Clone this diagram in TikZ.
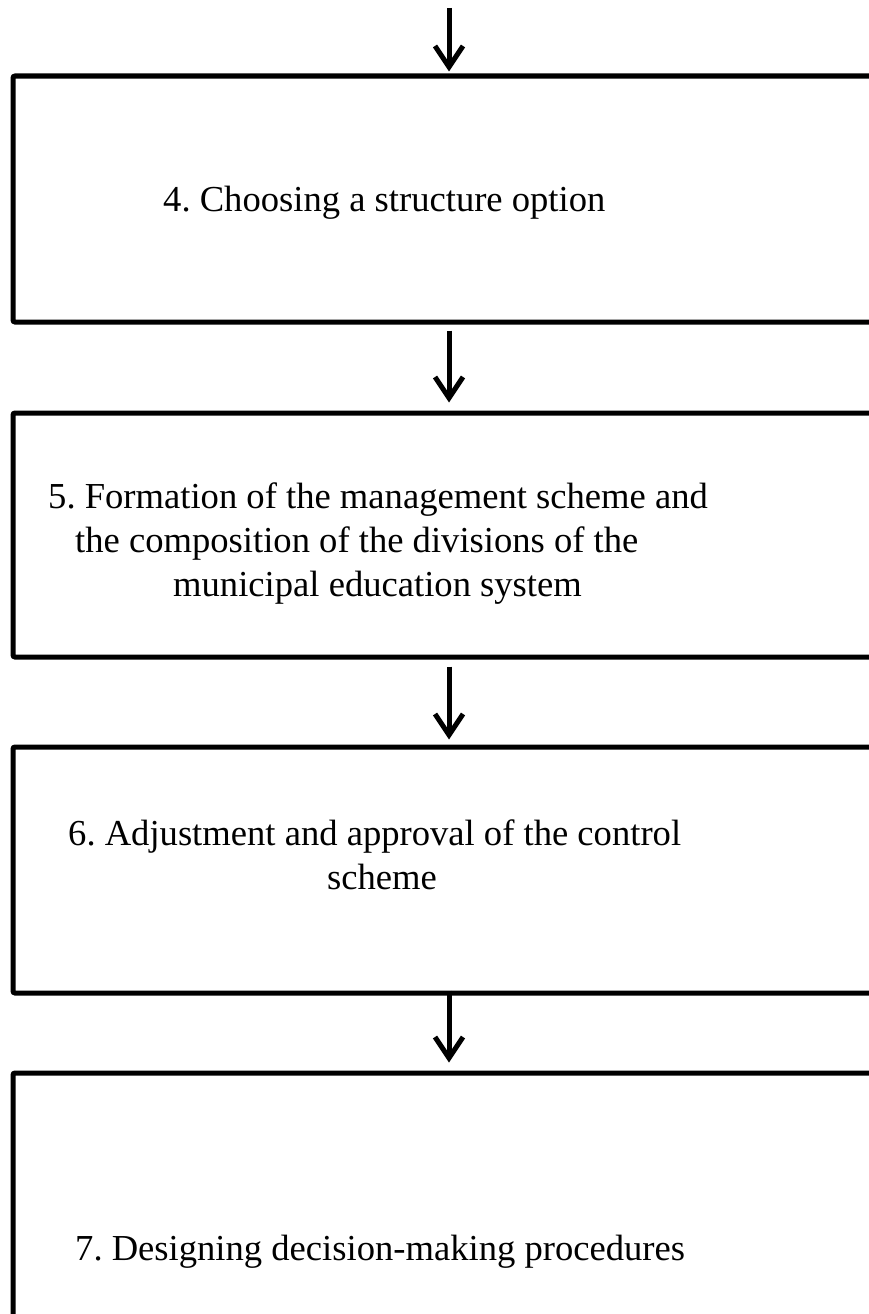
\documentclass[tikz,border=0pt]{standalone}
\usepackage{fontspec}
\setmainfont{Liberation Serif}
\usetikzlibrary{arrows.meta}
\frenchspacing
\begin{document}
\begin{tikzpicture}[x=1pt,y=-1pt,
  stepbox/.style={draw=black,line width=5pt,rounded corners=2pt,rectangle,inner sep=0pt,minimum width=872pt},
  arr/.style={line width=5pt,-{Straight Barb[length=21pt,width=28pt,line width=5pt]}},
  txt/.style={anchor=base west,inner sep=0pt,font=\fontsize{36.6}{44}\selectfont}]
\useasboundingbox (0,0) rectangle (868,1314);
\node[stepbox,minimum height=246pt] (b1) at (449,199) {};
\node[stepbox,minimum height=244pt] (b2) at (449,535) {};
\node[stepbox,minimum height=246pt] (b3) at (449,870) {};
\node[stepbox,minimum height=267pt] (b4) at (449,1206.5) {};
\coordinate (top) at (449,8);
\draw[arr] (top) -- ([yshift=2pt]b1.north);
\draw[arr] ([yshift=-6pt]b1.south) -- ([yshift=8pt]b2.north);
\draw[arr] ([yshift=-7pt]b2.south) -- ([yshift=5pt]b3.north);
\draw[arr] ([yshift=5pt]b3.south) -- ([yshift=8pt]b4.north);
\node[txt] (t1) at (163,211) {4. Choosing a structure option};
\node[txt] (t2a) at (48,508) {5. Formation of the management scheme and};
\node[txt] (t2b) at (75,552) {the composition of the divisions of the};
\node[txt] (t2c) at (173,596) {municipal education system};
\node[txt] (t3a) at (68,845) {6. Adjustment and approval of the control};
\node[txt] (t3b) at (327,889) {scheme};
\node[txt] (t4) at (75,1260) {7. Designing decision-making procedures};
\end{tikzpicture}
\end{document}
